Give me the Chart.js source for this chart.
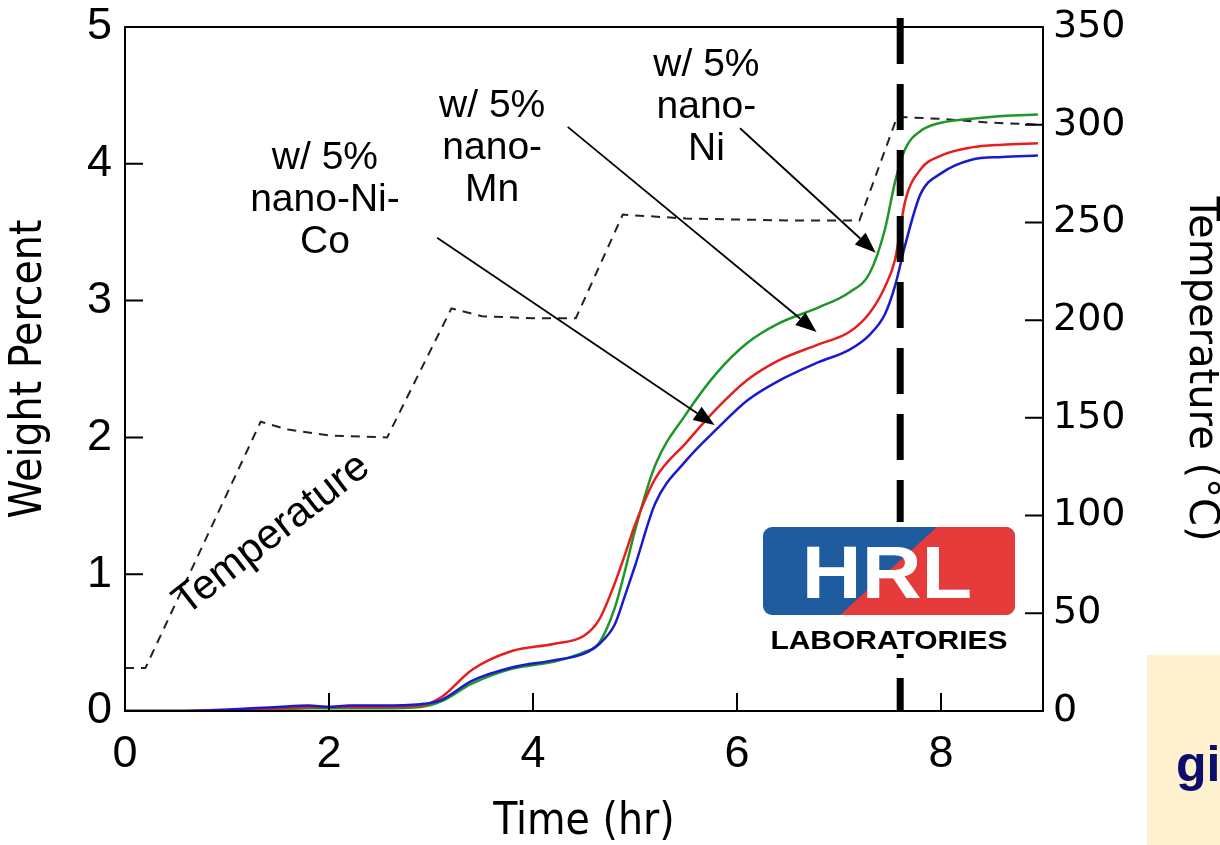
<!DOCTYPE html>
<html lang="en">
<head>
<meta charset="UTF-8" />
<title>Weight percent vs time</title>
<script src="https://cdn.jsdelivr.net/npm/chart.js@4.4.0/dist/chart.umd.min.js"></script>
<style>
*{box-sizing:border-box}
body{margin:0;background:#fff}
#wrap{position:relative;width:1220px;height:845px}
</style>
</head>
<body>
<div id="wrap"><canvas id="chart" width="1220" height="845"></canvas></div>

<script>
/* ---------- data ---------- */
const TIME   = [0, 0.5, 1, 1.5, 1.8, 2, 2.2, 2.5, 2.9,
                3.1, 3.4, 3.8, 4.2, 4.5, 4.65, 4.8, 4.9, 5.0, 5.2,
                5.5, 5.8, 6.1, 6.4, 6.8, 7.1, 7.3, 7.45, 7.55, 7.65,
                7.8, 8.0, 8.3, 8.6, 8.95];
const NI_CO  = [0, 0, 0.01, 0.03, 0.04, 0.03, 0.04, 0.04, 0.05,
                0.08, 0.22, 0.32, 0.37, 0.42, 0.49, 0.63, 0.84, 1.06, 1.52,
                1.83, 2.06, 2.27, 2.41, 2.55, 2.64, 2.75, 2.90, 3.11, 3.41,
                3.78, 3.93, 4.03, 4.05, 4.06];
const MN     = [0, 0, 0.01, 0.02, 0.03, 0.03, 0.03, 0.03, 0.04,
                0.10, 0.30, 0.44, 0.49, 0.55, 0.67, 0.93, 1.14, 1.36, 1.70,
                1.96, 2.21, 2.42, 2.56, 2.68, 2.77, 2.91, 3.10, 3.30, 3.73,
                3.96, 4.06, 4.12, 4.14, 4.15];
const NI     = [0, 0, 0, 0.01, 0.02, 0.02, 0.02, 0.02, 0.03,
                0.07, 0.20, 0.31, 0.36, 0.43, 0.50, 0.75, 1.02, 1.32, 1.80,
                2.17, 2.47, 2.69, 2.83, 2.95, 3.06, 3.20, 3.52, 3.87, 4.11,
                4.24, 4.30, 4.33, 4.35, 4.36];
const TEMP_TIME = [0, 0.2, 1.33, 1.6, 2.0, 2.57, 3.2, 3.5, 4.0, 4.42, 4.88, 5.5, 6.5, 7.2, 7.57, 8.0, 8.5, 9.0];
const TEMP      = [22, 22, 148, 144, 141, 140, 206, 202, 201, 201, 254, 252, 251, 251, 304, 303, 301, 300];
const MARK_TIME = 7.6;   // thick dashed vertical marker

/* annotations: centre of first text line and arrows, in (time, wt%) */
const NOTE_TEXT = [['w/ 5%','nano-Ni-','Co'], ['w/ 5%','nano-','Mn'], ['w/ 5%','nano-','Ni']];
const NOTE_AT   = [[1.96,4.04], [3.60,4.42], [5.70,4.72]];
const ARROW_FROM = [[3.06,3.46], [4.34,4.27], [6.03,4.26]];
const ARROW_TO   = [[5.78,2.09], [6.78,2.77], [7.36,3.35]];
const TEMP_LABEL_AT = [1.44,1.29];

/* ---------- fonts ---------- */
const ARIAL  = '"Liberation Sans", Arial, sans-serif';
const NARROW = '"DejaVu Sans Condensed", "Liberation Sans Narrow", sans-serif';
const DEJAVU = '"DejaVu Sans", sans-serif';

const pts = (xs,ys)=>xs.map((t,i)=>({x:t,y:ys[i]}));
const curve = (label,data,color)=>({label,data,yAxisID:'y',borderColor:color,borderWidth:2.5,
  pointRadius:0,fill:false,cubicInterpolationMode:'monotone'});
// no label-overflow padding: the frame is placed by layout.padding + fixed axis sizes
const noPad = s=>{s.paddingTop=0;s.paddingBottom=0;s.paddingLeft=0;s.paddingRight=0;};

/* ---------- overlay: frame, inward ticks, marker, notes, logo ---------- */
const overlay = {
  id:'overlay',
  afterDatasetsDraw(chart){
    const {ctx, chartArea:a, scales:{x,y,y2}} = chart;
    const px = p=>[x.getPixelForValue(p[0]), y.getPixelForValue(p[1])];
    ctx.save();

    // vertical marker
    const mx = x.getPixelForValue(MARK_TIME);
    ctx.strokeStyle='#000'; ctx.lineWidth=7; ctx.setLineDash([46,20]);
    ctx.beginPath(); ctx.moveTo(mx,a.top-9); ctx.lineTo(mx,a.bottom); ctx.stroke();
    ctx.setLineDash([]);

    // frame + inward ticks
    ctx.lineWidth=2;
    ctx.strokeRect(a.left,a.top,a.right-a.left,a.bottom-a.top);
    ctx.beginPath();
    y.ticks.forEach(t=>{const p=y.getPixelForValue(t.value);ctx.moveTo(a.left,p);ctx.lineTo(a.left+18,p);});
    y2.ticks.forEach(t=>{const p=y2.getPixelForValue(t.value);ctx.moveTo(a.right,p);ctx.lineTo(a.right-18,p);});
    x.ticks.forEach(t=>{const p=x.getPixelForValue(t.value);ctx.moveTo(p,a.bottom);ctx.lineTo(p,a.bottom-18);});
    ctx.stroke();

    // arrows
    ctx.fillStyle='#000'; ctx.lineWidth=1.8;
    ARROW_FROM.forEach((f,i)=>{
      const [x0,y0]=px(f), [x1,y1]=px(ARROW_TO[i]);
      const ang=Math.atan2(y1-y0,x1-x0), L=21, W=8;
      const bx=x1-L*Math.cos(ang), by=y1-L*Math.sin(ang);
      ctx.beginPath(); ctx.moveTo(x0,y0); ctx.lineTo(bx,by); ctx.stroke();
      ctx.beginPath(); ctx.moveTo(x1,y1);
      ctx.lineTo(bx+W*Math.sin(ang),by-W*Math.cos(ang));
      ctx.lineTo(bx-W*Math.sin(ang),by+W*Math.cos(ang));
      ctx.closePath(); ctx.fill();
    });

    // notes
    ctx.font='39px '+ARIAL; ctx.textAlign='center'; ctx.textBaseline='middle';
    NOTE_TEXT.forEach((lines,i)=>{
      const [cx,cy]=px(NOTE_AT[i]);
      lines.forEach((s,k)=>ctx.fillText(s,cx,cy+k*42));
    });
    const [tx,ty]=px(TEMP_LABEL_AT);
    ctx.save(); ctx.translate(tx,ty); ctx.rotate(-38*Math.PI/180);
    ctx.font='42px '+ARIAL; ctx.fillText('Temperature',0,0); ctx.restore();

    ctx.restore();
  },
  afterDraw(chart){
    const ctx=chart.ctx;
    ctx.save();
    // HRL logo
    ctx.fillStyle='#fff'; ctx.fillRect(758,522,262,132);
    ctx.beginPath(); ctx.roundRect(763,527,252,88,9); ctx.save(); ctx.clip();
    ctx.fillStyle='#1e5c9f'; ctx.fillRect(763,527,252,88);
    ctx.fillStyle='#e63b3b';
    ctx.beginPath(); ctx.moveTo(937,527); ctx.lineTo(1015,527); ctx.lineTo(1015,615); ctx.lineTo(840,615); ctx.closePath(); ctx.fill();
    ctx.restore();
    ctx.fillStyle='#fff'; ctx.textAlign='center'; ctx.textBaseline='alphabetic';
    ctx.save(); ctx.translate(887,598); ctx.scale(1.12,1);
    ctx.font='bold 74px '+ARIAL; ctx.fillText('HRL',0,0); ctx.restore();
    ctx.fillStyle='#000';
    ctx.save(); ctx.translate(889,649); ctx.scale(1.2,1);
    ctx.font='bold 25px '+ARIAL; ctx.fillText('LABORATORIES',0,0); ctx.restore();

    // slide fragment bottom right
    ctx.fillStyle='#fdf1d0'; ctx.fillRect(1147,655,73,190);
    ctx.fillStyle='#0d0d6b'; ctx.textAlign='left';
    ctx.font='bold 50px '+ARIAL; ctx.fillText('gi',1176,781);
    ctx.restore();
  }
};

new Chart(document.getElementById('chart'),{
  type:'line',
  data:{datasets:[
    curve('w/ 5% nano-Ni-Co',pts(TIME,NI_CO),'#1a1acd'),
    curve('w/ 5% nano-Mn',pts(TIME,MN),'#e61e1e'),
    curve('w/ 5% nano-Ni',pts(TIME,NI),'#1e9628'),
    {label:'Temperature',data:pts(TEMP_TIME,TEMP),yAxisID:'y2',borderColor:'#222',borderWidth:2,
     borderDash:[9,7],pointRadius:0,fill:false,tension:0}
  ]},
  options:{
    responsive:false,animation:false,
    layout:{autoPadding:false,padding:{top:27,left:0,right:0,bottom:0}},
    plugins:{legend:{display:false},tooltip:{enabled:false}},
    scales:{
      x:{type:'linear',min:0,max:9,afterFit(s){s.height=134;noPad(s);},
        grid:{display:false,drawTicks:false},border:{display:false},
        ticks:{stepSize:2,includeBounds:false,padding:17,maxRotation:0,color:'#000',font:{family:ARIAL,size:45}},
        title:{display:true,text:'Time (hr)',color:'#000',font:{family:NARROW,size:44,lineHeight:1},padding:{top:0,bottom:0}}},
      y:{position:'left',min:0,max:5,afterFit(s){s.width=125;noPad(s);},
        grid:{display:false,drawTicks:false},border:{display:false},
        ticks:{stepSize:1,padding:13,color:'#000',font:{family:ARIAL,size:45}},
        title:{display:true,text:'Weight Percent',color:'#000',font:{family:NARROW,size:44,lineHeight:1},padding:{top:8,bottom:0}}},
      y2:{position:'right',min:0,max:350,afterFit(s){s.width=177;noPad(s);},
        grid:{display:false,drawTicks:false},border:{display:false},
        ticks:{stepSize:50,padding:10,color:'#000',font:{family:DEJAVU,size:38}},
        title:{display:true,text:'Temperature (°C)',color:'#000',font:{family:DEJAVU,size:40,lineHeight:1},padding:{top:0,bottom:0}}}
    }
  },
  plugins:[overlay]
});
</script>
</body>
</html>
